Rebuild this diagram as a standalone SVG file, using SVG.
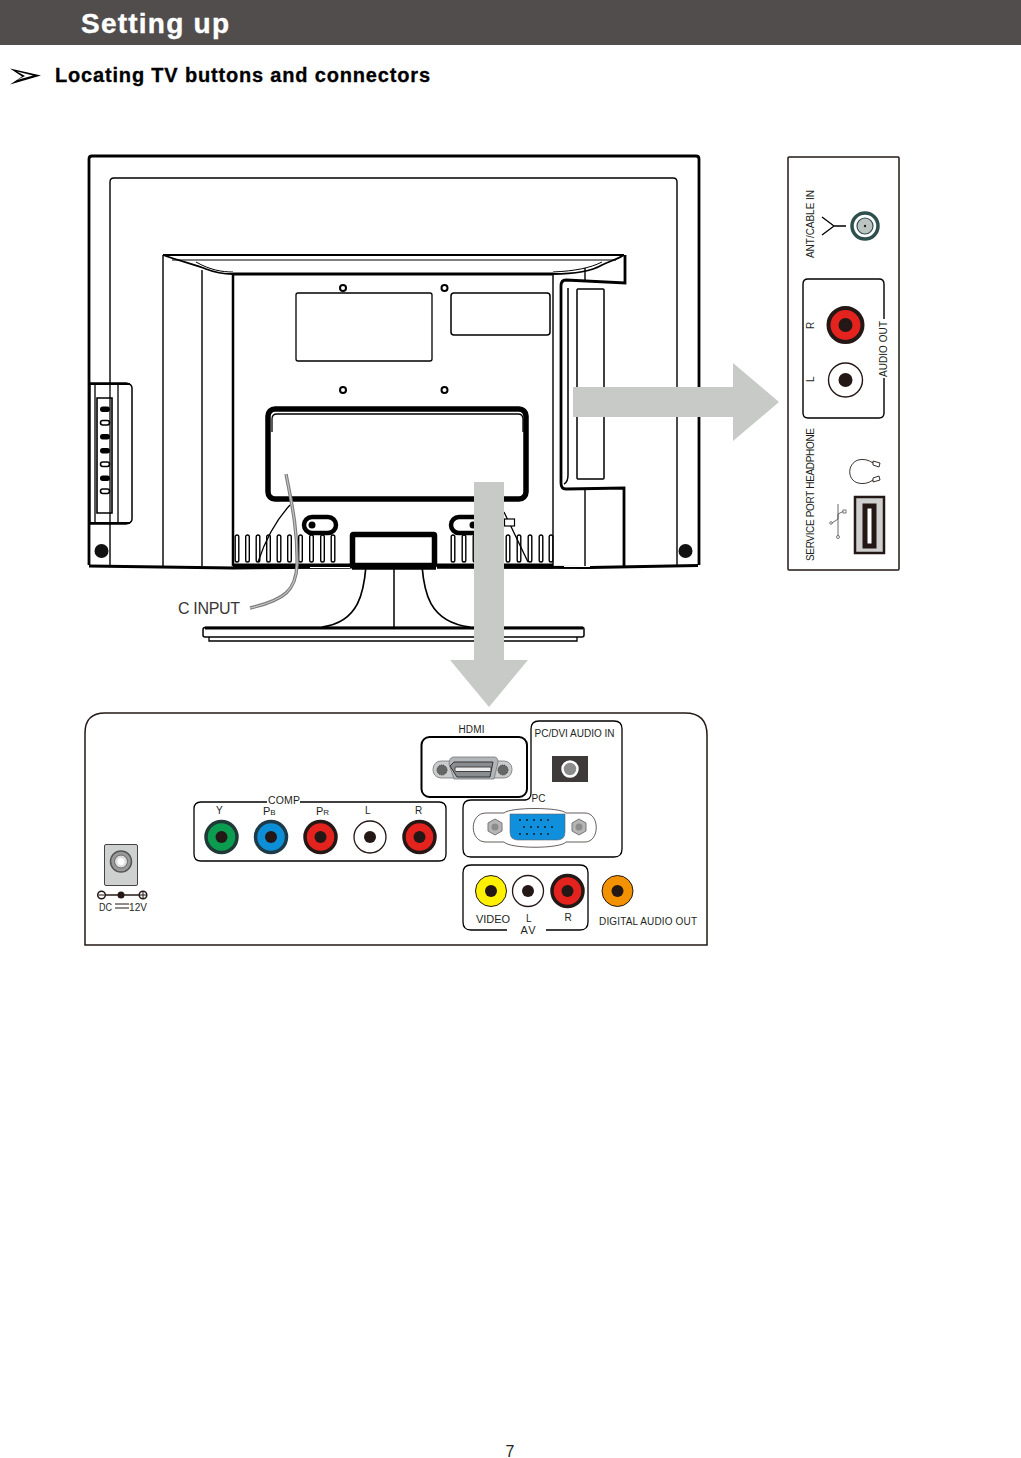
<svg xmlns="http://www.w3.org/2000/svg" width="1021" height="1458" viewBox="0 0 1021 1458">
<style>
text{font-family:"Liberation Sans",Arial,sans-serif;fill:#231f20}
.l{fill:none;stroke:#000}
.t{fill:none;stroke:#000}
.s{font-size:10px}
.a{fill:#c8cac8;stroke:none}
</style>
<defs>
<g id="vent"><rect x="-1.800" y="0" width="3.600" height="27" rx="1.800" fill="#fff" stroke="#000" stroke-width="1.400"/></g>
<g id="rcaRed"><circle r="17" fill="#e4231f" stroke="#231815" stroke-width="4"/><circle r="7" fill="#231815"/></g>
<g id="rcaWhite"><circle r="17" fill="#fff" stroke="#231815" stroke-width="1.400"/><circle r="7" fill="#231815"/></g>
<g id="nut"><polygon points="0,-8 7,-4 7,4 0,8 -7,4 -7,-4" fill="#b5b5b5" stroke="#777" stroke-width="1"/><circle r="3.500" fill="#8c8c8c"/></g>
</defs>
<rect width="1021" height="1458" fill="#fff"/>
<g id="header">
<rect x="0" y="0" width="1021" height="45" fill="#514d4c"/>
<text x="81" y="33" font-size="28" font-weight="700" stroke="#fff" stroke-width="0.400" style="fill:#fff" textLength="148" lengthAdjust="spacing">Setting up</text>
<path d="M10,68.500 L41,75.500 L10,84.500 L22,76.500 Z" fill="#000"/>
<path d="M17,71.500 L33,75.500 L17,80 L25,76 Z" fill="#fff"/>
<text x="55" y="82" font-size="20" font-weight="700" stroke="#000" stroke-width="0.300" style="fill:#000" textLength="375" lengthAdjust="spacing">Locating TV buttons and connectors</text>
</g>
<g id="tv">
<path class="l" stroke-width="2.800" d="M89,565 V159 Q89,156 92,156 H696 Q699,156 699,159 V565"/>
<path class="t" stroke-width="1.400" d="M110,383 V182 Q110,178 114,178 H673 Q677,178 677,182 V565"/>
<path class="t" stroke-width="1.400" d="M110,524 V566"/>
<path d="M89,566 L233,568 L353,567 M437,567 L590,567.500 L698,565.500" fill="none" stroke="#000" stroke-width="3"/>
<path d="M233,566 H350 M437,566 H553" fill="none" stroke="#000" stroke-width="5"/>
<path d="M310,567.500 H350 M564,566.500 H590" fill="none" stroke="#fff" stroke-width="1.200"/>
<circle cx="101.500" cy="551" r="7" fill="#111"/><circle cx="685.500" cy="551" r="7" fill="#111"/>
<path class="t" stroke-width="1.400" d="M163,255 V566 M202,270 V566"/>
<path class="l" stroke-width="2.500" d="M233,274 V566"/>
<path class="l" stroke-width="2.200" d="M163,255 H624"/>
<path class="t" stroke-width="1.200" d="M172,260 H616"/>
<path class="l" stroke-width="1.800" d="M163,255 C185,263 195,264 206,269 C216,273 226,274 233,274"/>
<path class="l" stroke-width="3" d="M233,274 H553"/>
<path class="l" stroke-width="1.800" d="M553,274 C575,274 590,272 602,265 C610,261 618,259 624,255"/>
<path class="t" stroke-width="1" d="M196,262 C210,270 222,272 233,272 M553,272 C575,271 590,268 602,262"/>
<path class="l" stroke-width="2.800" d="M625,255 V283 L566,280 Q561,280 561,286 V483 Q561,489 566,489 L624,488 V566"/>
<path class="t" stroke-width="1.400" d="M553,274 V566 M585,489 V566 M585,268 V280"/>
<path class="l" stroke-width="1.500" d="M568,288 V475 Q568,482 564,484"/>
<rect class="l" x="577" y="289" width="27" height="190" rx="1" stroke-width="1.500"/>
<rect x="296" y="293" width="136" height="68" rx="2" fill="#fff" stroke="#000" stroke-width="1.300"/>
<rect class="l" x="451" y="293" width="99" height="42" rx="3" stroke-width="1.500"/>
<g class="l" stroke-width="2"><circle cx="343" cy="288" r="3"/><circle cx="444.500" cy="288" r="3"/><circle cx="343" cy="390" r="3"/><circle cx="444.500" cy="390" r="3"/></g>
<rect class="l" x="268" y="409" width="258" height="90" rx="7" stroke-width="5.500"/>
<path class="t" stroke-width="1.300" d="M272,432 V419 Q272,414 277,414 H518 Q523,414 523,419 V432"/>
<rect x="304" y="517" width="32" height="16" rx="8" fill="#fff" stroke="#000" stroke-width="4.500"/>
<circle cx="312" cy="525" r="3.500" fill="#000"/>
<rect x="451" y="517" width="50" height="16" rx="8" fill="#fff" stroke="#000" stroke-width="4.500"/>
<circle cx="473" cy="525" r="3.500" fill="#000"/>
<g><use href="#vent" x="237" y="535"/><use href="#vent" x="247.500" y="535"/><use href="#vent" x="258" y="535"/><use href="#vent" x="268.500" y="535"/><use href="#vent" x="279" y="535"/><use href="#vent" x="289.500" y="535"/><use href="#vent" x="300.500" y="535"/><use href="#vent" x="311.500" y="535"/><use href="#vent" x="322.500" y="535"/><use href="#vent" x="333" y="535"/><use href="#vent" x="453" y="535"/><use href="#vent" x="464" y="535"/><use href="#vent" x="475" y="535"/><use href="#vent" x="508" y="535"/><use href="#vent" x="519" y="535"/><use href="#vent" x="530" y="535"/><use href="#vent" x="541" y="535"/><use href="#vent" x="551" y="535"/></g>
<path class="t" stroke-width="1.300" d="M290,505 C278,518 266,538 258,562 M504,512 L528,562"/>
<rect x="504.500" y="519" width="10" height="7" fill="#fff" stroke="#000" stroke-width="1.200"/>
<rect x="352.500" y="534.500" width="82" height="31" rx="1" fill="#fff" stroke="#000" stroke-width="5.500"/>
<path d="M352,568 H436" stroke="#000" stroke-width="3.500"/>
<path class="l" stroke-width="1.700" d="M366,566 C364,590 360,622 322,627"/>
<path class="l" stroke-width="1.700" d="M422,566 C424,590 428,622 470,627"/>
<path class="l" stroke-width="1.500" d="M394,563 V627"/>
<path d="M205,627.500 H583 Q584,627.500 584,630 V635 Q584,637 582,637 H205 Q203,637 203,635 V630 Q203,627.500 205,627.500 Z" fill="#fff" stroke="#000" stroke-width="1.500"/>
<path d="M205,628 H583" stroke="#000" stroke-width="3"/>
<path class="t" stroke-width="1.300" d="M209,637 V641 H577 V637"/>
<g id="side-buttons">
<path d="M90,383 H126 Q132,384 132,388 V519 Q132,523 126,524 H90 Z" fill="#fff" stroke="#000" stroke-width="1.500"/>
<path class="l" stroke-width="2" d="M90,384 H130 M90,523 H130"/>
<path class="l" stroke-width="1.300" d="M95,383 V524 M110,383 V524 M118,383 V524"/>
<path class="t" stroke-width="1.600" d="M97,398 H112 V513 H97 Z"/>
<rect x="100" y="406.500" width="10" height="5.500" rx="2.700" fill="#000"/>
<rect x="100.500" y="420.500" width="9" height="4.500" rx="2.200" fill="#fff" stroke="#000" stroke-width="1.600"/>
<rect x="100" y="434" width="10" height="5.500" rx="2.700" fill="#000"/>
<rect x="100" y="448" width="10" height="5.500" rx="2.700" fill="#000"/>
<rect x="100.500" y="462" width="9" height="4.500" rx="2.200" fill="#fff" stroke="#000" stroke-width="1.600"/>
<rect x="100" y="475.500" width="10" height="5.500" rx="2.700" fill="#000"/>
<rect x="100.500" y="489" width="9" height="4.500" rx="2.200" fill="#fff" stroke="#000" stroke-width="1.600"/>
</g>
<path d="M286,474 C291,500 298,530 297,565 C296,590 285,600 250,608" fill="none" stroke="#7d7d7d" stroke-width="3.400"/>
<path d="M286,474 C291,500 298,530 297,565 C296,590 285,600 250,608" fill="none" stroke="#c4c4c4" stroke-width="1.200"/>
<text x="178" y="614" font-size="16" style="fill:#3a3536" textLength="62">C INPUT</text>
</g>
<g id="side-panel">
<rect x="788" y="157" width="111" height="413" rx="1" fill="#fff" stroke="#231815" stroke-width="1.500"/>
<text class="s" transform="translate(813.500,258) rotate(-90)" textLength="68">ANT/CABLE IN</text>
<path class="t" stroke-width="1.300" d="M822,217 L834,226 L822,235 M834,226 H846"/>
<circle cx="865" cy="226" r="13" fill="#fff" stroke="#2f4f4f" stroke-width="3.500"/>
<circle cx="865" cy="226" r="8" fill="#bcc4c2" stroke="#2f4f4f" stroke-width="1.200"/>
<circle cx="865" cy="226" r="1.200" fill="#222"/>
<path class="l" stroke-width="1.400" d="M884,319 V284 Q884,279 879,279 H808 Q803,279 803,284 V413 Q803,418 808,418 H879 Q884,418 884,413 V378"/>
<use href="#rcaRed" x="845.500" y="325"/>
<use href="#rcaWhite" x="845.500" y="380"/>
<text class="s" transform="translate(813.500,329) rotate(-90)">R</text>
<text class="s" transform="translate(813.500,382) rotate(-90)">L</text>
<text class="s" transform="translate(886.500,377) rotate(-90)" textLength="56">AUDIO OUT</text>
<text class="s" transform="translate(813.500,561) rotate(-90)" textLength="133">SERVICE PORT HEADPHONE</text>
<path d="M873,463 Q866,458 858,460 C847,464 847,480 858,483 Q866,485 873,480" fill="none" stroke="#231815" stroke-width="0.900"/>
<path d="M873,461 L880,463 L879,467 L873,465 Z M873,478 L879,476 L880,480 L873,482 Z" fill="#fff" stroke="#231815" stroke-width="0.900"/>
<rect x="855" y="497" width="29" height="56" fill="#cfcfcf" stroke="#231815" stroke-width="2.500"/>
<rect x="865" y="506" width="9" height="40" fill="#fff" stroke="#231815" stroke-width="5"/>
<path d="M838,504 V536 M838,519 L832,523 M838,519 V514 L844,511" fill="none" stroke="#444" stroke-width="0.800"/>
<circle cx="838" cy="537" r="1.500" fill="#fff" stroke="#444" stroke-width="0.700"/>
<rect x="843" y="510" width="3" height="3" fill="#fff" stroke="#444" stroke-width="0.700"/>
<circle cx="831" cy="523" r="1.300" fill="#fff" stroke="#444" stroke-width="0.700"/>
</g>
<g id="bottom-panel">
<path d="M85,945 V733 Q85,713 105,713 H685 Q707,713 707,735 V945 Z" fill="#fff" stroke="#231815" stroke-width="1.500"/>
<g id="dc">
<rect x="104.500" y="844.500" width="33" height="41" rx="1.500" fill="#cfd0d0" stroke="#444" stroke-width="1"/>
<circle cx="121" cy="861.500" r="10.500" fill="#9a9a9a" stroke="#555" stroke-width="1.500"/>
<circle cx="121" cy="861.500" r="6.500" fill="#ddd" stroke="#666" stroke-width="1"/>
<circle cx="121" cy="861.500" r="3.500" fill="#fff"/>
<path d="M105,895 H139" stroke="#231815" stroke-width="1.500"/>
<circle cx="101.500" cy="895" r="3.800" fill="#fff" stroke="#231815" stroke-width="1.500"/>
<circle cx="143" cy="895" r="3.800" fill="#fff" stroke="#231815" stroke-width="1.500"/>
<path d="M98.500,895 H104.500 M140,895 H146 M143,892 V898" stroke="#231815" stroke-width="1"/>
<circle cx="121" cy="895" r="3.500" fill="#231815"/>
<text x="99" y="911" font-size="10" textLength="13" lengthAdjust="spacingAndGlyphs">DC</text>
<path d="M115,904 H129 M115,908 H129" stroke="#231815" stroke-width="1"/>
<text x="129" y="911" font-size="10" textLength="18">12V</text>
</g>
<g id="comp">
<path class="l" stroke-width="1.300" d="M267,802 H201 Q194,802 194,809 V854 Q194,861 201,861 H439 Q446,861 446,854 V809 Q446,802 439,802 H300"/>
<text x="268" y="804" font-size="10.500" textLength="32">COMP</text>
<text x="216" y="814" font-size="10">Y</text>
<text x="263" y="815" font-size="11">P<tspan font-size="8">B</tspan></text>
<text x="316" y="815" font-size="11">P<tspan font-size="8">R</tspan></text>
<text x="365" y="814" font-size="10">L</text>
<text x="415" y="814" font-size="10">R</text>
<circle cx="221.500" cy="837" r="15.500" fill="#0b9c4f" stroke="#1f3a36" stroke-width="3.500"/><circle cx="221.500" cy="837" r="6" fill="#231815"/>
<circle cx="271" cy="837" r="15.500" fill="#0d8fd8" stroke="#1d3a48" stroke-width="3.500"/><circle cx="271" cy="837" r="6" fill="#231815"/>
<circle cx="320.500" cy="837" r="15.500" fill="#e4231f" stroke="#231815" stroke-width="3.500"/><circle cx="320.500" cy="837" r="6" fill="#231815"/>
<circle cx="370" cy="837" r="16" fill="#fff" stroke="#231815" stroke-width="1.300"/><circle cx="370" cy="837" r="6" fill="#231815"/>
<circle cx="419.500" cy="837" r="15.500" fill="#e4231f" stroke="#231815" stroke-width="3.500"/><circle cx="419.500" cy="837" r="6" fill="#231815"/>
</g>
<g id="hdmi">
<text x="458.500" y="733" font-size="10" textLength="26">HDMI</text>
<rect x="421.500" y="737" width="105.500" height="60" rx="8" fill="#fff" stroke="#000" stroke-width="2"/>
<rect x="433" y="761" width="79" height="17" rx="8" fill="#c9cbcc" stroke="#777" stroke-width="0.800"/>
<circle cx="442" cy="770" r="5" fill="#666" stroke="#333" stroke-width="1" stroke-dasharray="1 1"/>
<circle cx="503" cy="770" r="5" fill="#666" stroke="#333" stroke-width="1" stroke-dasharray="1 1"/>
<path d="M454,757 H494 Q498,757 498,762 L494,779 H454 L449,764 Q449,757 454,757 Z" fill="#b3b6b8" stroke="#777" stroke-width="0.800"/>
<path d="M454,762 H493 L490,777 H457 L450,766 Z" fill="#8a8d90" stroke="#333" stroke-width="1"/>
<rect x="455" y="767" width="36" height="4.500" rx="1" fill="#eee" stroke="#333" stroke-width="0.900"/>
</g>
<g id="pc-audio">
<path class="l" stroke-width="1.300" d="M526,800 H471 Q463,800 463,808 V849 Q463,857 471,857 H614 Q622,857 622,849 V729 Q622,721 614,721 H539 Q531,721 531,729 V793 Q531,800 524,800"/>
<text x="534.500" y="736.500" font-size="10" textLength="80">PC/DVI AUDIO IN</text>
<rect x="552" y="756" width="36" height="26" fill="#3e3a39"/>
<circle cx="570" cy="769" r="7.500" fill="#8c8c8c" stroke="#fff" stroke-width="2.500"/>
<text x="531.500" y="802" font-size="10">PC</text>
<path d="M486,813 H504 C510,807 560,807 566,813 H585 C600,813 600,842 585,842 H566 C560,849 510,849 504,842 H486 C469,842 469,813 486,813 Z" fill="#fff" stroke="#231815" stroke-width="0.700"/>
<path d="M510,814 H565 V832 Q565,840 557,840 H518 Q510,840 510,832 Z" fill="#0f8fdc" stroke="#666" stroke-width="0.600"/>
<g fill="#111"><circle cx="520" cy="820" r="0.900"/><circle cx="527" cy="820" r="0.900"/><circle cx="534" cy="820" r="0.900"/><circle cx="541" cy="820" r="0.900"/><circle cx="548" cy="820" r="0.900"/><circle cx="524" cy="827" r="0.900"/><circle cx="531" cy="827" r="0.900"/><circle cx="538" cy="827" r="0.900"/><circle cx="545" cy="827" r="0.900"/><circle cx="552" cy="827" r="0.900"/><circle cx="520" cy="834" r="0.900"/><circle cx="527" cy="834" r="0.900"/><circle cx="534" cy="834" r="0.900"/><circle cx="541" cy="834" r="0.900"/><circle cx="548" cy="834" r="0.900"/></g>
<use href="#nut" x="495" y="827"/><use href="#nut" x="579" y="827"/>
</g>
<g id="av">
<path class="l" stroke-width="1.300" d="M507,930 H471 Q463,930 463,922 V873 Q463,865 471,865 H580 Q588,865 588,873 V922 Q588,930 580,930 H546"/>
<circle cx="491" cy="891" r="15.500" fill="#fff100" stroke="#231815" stroke-width="1"/><circle cx="491" cy="891" r="6" fill="#231815"/>
<circle cx="528" cy="891" r="15.500" fill="#fff" stroke="#231815" stroke-width="1.300"/><circle cx="528" cy="891" r="6" fill="#231815"/>
<circle cx="567.500" cy="891" r="15.500" fill="#e4231f" stroke="#231815" stroke-width="3.500"/><circle cx="567.500" cy="891" r="6" fill="#231815"/>
<text x="476" y="923" font-size="11" textLength="34">VIDEO</text>
<text x="526" y="922" font-size="10">L</text>
<text x="564.500" y="921" font-size="10">R</text>
<text x="520.500" y="934" font-size="11" textLength="15">AV</text>
</g>
<g id="digital">
<circle cx="617.500" cy="891" r="15.500" fill="#f39200" stroke="#231815" stroke-width="1"/><circle cx="617.500" cy="891" r="6" fill="#231815"/>
<text x="599" y="925" font-size="10" textLength="98">DIGITAL AUDIO OUT</text>
</g>
</g>
<g id="connectors">
<path class="a" d="M573,387 H733 V363 L779,402 L733,441 V417 H573 Z"/>
<path class="a" d="M474,482 H504 V660 H528 L489,707 L450,660 H474 Z"/>
</g>
<text id="page-number" x="510" y="1457" font-size="16" text-anchor="middle">7</text>
</svg>
